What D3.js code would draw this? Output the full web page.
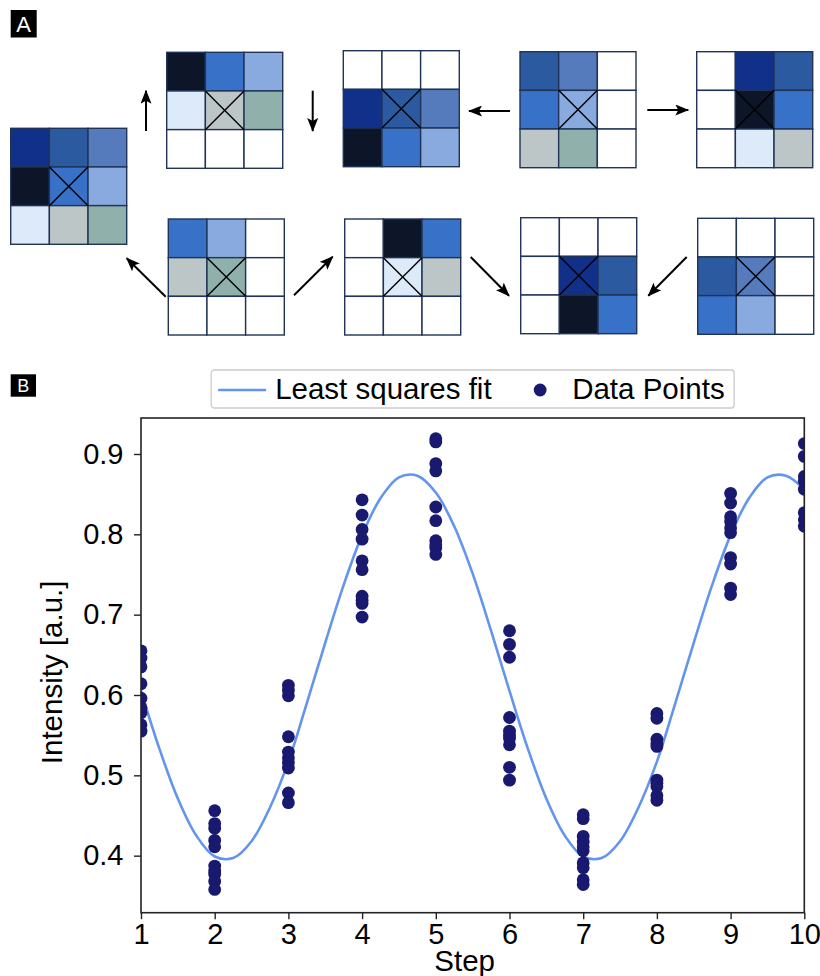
<!DOCTYPE html>
<html>
<head>
<meta charset="utf-8">
<script src="https://cdn.jsdelivr.net/npm/d3@7"></script>
<style>
  body { margin: 0; background: #fff; }
  svg { display: block; }
  text { font-family: "Liberation Sans", Arial, sans-serif; }
</style>
</head>
<body>
<svg id="fig"></svg>
<script>
// ---- panel A: 3x3 image patch and its shifted copies ----
let palette = ["#11308a", "#2b5aa0", "#557bbc",
               "#0c1628", "#3771c8", "#88aade",
               "#dceafa", "#bcc6c7", "#8fb0ab"];
let baseImage = [[0, 1, 2],
                 [3, 4, 5],
                 [6, 7, 8]];
// [row shift, col shift] for each patch (first one is the original)
let shifts = [[0, 0], [1, 0], [-1, 0], [0, 1], [0, -1], [1, 1], [1, -1], [-1, -1], [-1, 1]];

// ---- panel B: measurements and fitted curve ----
let steps = [1, 2, 3, 4, 5, 6, 7, 8, 9, 10];
let intensity = [
  [0.655, 0.646, 0.635, 0.614, 0.596, 0.584, 0.578, 0.563, 0.555],
  [0.456, 0.440, 0.434, 0.419, 0.411, 0.387, 0.381, 0.377, 0.368, 0.358],
  [0.612, 0.606, 0.599, 0.548, 0.529, 0.522, 0.516, 0.509, 0.478, 0.466],
  [0.843, 0.824, 0.806, 0.794, 0.767, 0.756, 0.723, 0.718, 0.714, 0.697],
  [0.919, 0.915, 0.888, 0.879, 0.834, 0.817, 0.792, 0.787, 0.783, 0.775],
  [0.680, 0.663, 0.647, 0.572, 0.555, 0.550, 0.546, 0.538, 0.510, 0.494],
  [0.451, 0.446, 0.424, 0.417, 0.411, 0.406, 0.391, 0.385, 0.370, 0.364],
  [0.577, 0.571, 0.545, 0.539, 0.536, 0.494, 0.490, 0.486, 0.475, 0.469],
  [0.851, 0.839, 0.822, 0.816, 0.808, 0.802, 0.771, 0.763, 0.733, 0.725],
  [0.913, 0.897, 0.872, 0.866, 0.856, 0.827, 0.818, 0.810]
];
let fitX = [1, 1.25, 1.5, 1.75, 2, 2.25, 2.5, 2.75, 3, 3.25, 3.5, 3.75, 4, 4.25, 4.5, 4.75,
            5, 5.25, 5.5, 5.75, 6, 6.25, 6.5, 6.75, 7, 7.25, 7.5, 7.75, 8, 8.25, 8.5, 8.75,
            9, 9.25, 9.5, 9.75, 10];
let fitY = [0.605, 0.533, 0.471, 0.425, 0.399, 0.397, 0.418, 0.460, 0.517, 0.590, 0.665, 0.737,
            0.799, 0.845, 0.871, 0.873, 0.852, 0.810, 0.751, 0.680, 0.605, 0.533, 0.471, 0.425,
            0.399, 0.397, 0.418, 0.460, 0.517, 0.590, 0.665, 0.737, 0.799, 0.845, 0.871, 0.873, 0.856];
let yTicks = [0.4, 0.5, 0.6, 0.7, 0.8, 0.9];
let xTicks = steps;
let seriesNames = ["Least squares fit", "Data Points"];

let width = 820;
let height = 976;
let svg = d3.select("#fig").attr("width", width).attr("height", height);

let fontSize = 29.5;
let tickFontSize = 29;
let lineColor = "#6495ed";
let dotColor = "#191970";

// panel label boxes
let panelLabel = (txt, x, y, w, h, fs) => {
    svg.append("rect").attr("x", x).attr("y", y).attr("width", w).attr("height", h).attr("fill", "#000");
    svg.append("text").attr("x", x + w / 2).attr("y", y + h / 2).attr("dy", "0.36em")
        .attr("text-anchor", "middle").attr("fill", "#fff").style("font-size", fs + "px").text(txt);
};
panelLabel("A", 10.7, 10, 26, 27.5, 22);
panelLabel("B", 10.7, 374.3, 25.3, 22.4, 18);

// ---- panel A drawing ----
let gridSize = 116;
let gridPos = [[10.7, 128.3],
               [166.7, 52.3], [343.3, 50.7], [520, 51.7], [696.7, 51.7],
               [168.3, 219], [344.7, 219], [520.7, 217.7], [697.7, 218.3]];

let cellScale = d3.scaleBand().domain([0, 1, 2]).range([0, gridSize]);

let patches = svg.append("g").selectAll("g")
    .data(shifts)
    .enter()
    .append("g")
    .attr("transform", (d, i) => "translate(" + gridPos[i][0] + "," + gridPos[i][1] + ")");

patches.each(function (shift) {
    let cells = [];
    for (let r = 0; r < 3; r++) {
        for (let c = 0; c < 3; c++) {
            let sr = r + shift[0], sc = c + shift[1];
            let inside = sr >= 0 && sr < 3 && sc >= 0 && sc < 3;
            cells.push({r: r, c: c, color: inside ? palette[baseImage[sr][sc]] : "#ffffff"});
        }
    }
    let g = d3.select(this);
    g.selectAll("rect")
        .data(cells)
        .enter()
        .append("rect")
        .attr("x", d => cellScale(d.c))
        .attr("y", d => cellScale(d.r))
        .attr("width", cellScale.bandwidth())
        .attr("height", cellScale.bandwidth())
        .attr("fill", d => d.color)
        .attr("stroke", "#1f3458")
        .attr("stroke-width", 1.4);
    let x0 = cellScale(1), x1 = cellScale(1) + cellScale.bandwidth();
    g.append("line").attr("x1", x0).attr("y1", x0).attr("x2", x1).attr("y2", x1)
        .attr("stroke", "#000").attr("stroke-width", 1.4);
    g.append("line").attr("x1", x0).attr("y1", x1).attr("x2", x1).attr("y2", x0)
        .attr("stroke", "#000").attr("stroke-width", 1.4);
});

svg.append("defs").append("marker")
    .attr("id", "head")
    .attr("markerUnits", "userSpaceOnUse")
    .attr("viewBox", "0 0 14 11")
    .attr("refX", 13).attr("refY", 5.5)
    .attr("markerWidth", 14).attr("markerHeight", 11)
    .attr("orient", "auto")
    .append("path")
    .attr("d", "M0,0 L14,5.5 L0,11 L3,5.5 Z")
    .attr("fill", "#000");

let arrows = [[146, 131, 146, 90.7], [312.7, 90.7, 312.7, 131],
              [510, 111, 469, 111], [647.3, 110, 688.3, 110],
              [165.7, 296.7, 126.7, 258.3], [294, 295.3, 332.7, 256.7],
              [470.7, 257, 509, 295.7], [686.7, 257, 648.3, 295.7]];
svg.append("g").selectAll("line")
    .data(arrows)
    .enter()
    .append("line")
    .attr("x1", d => d[0]).attr("y1", d => d[1])
    .attr("x2", d => d[2]).attr("y2", d => d[3])
    .attr("stroke", "#000")
    .attr("stroke-width", 2)
    .attr("marker-end", "url(#head)");

// ---- panel B drawing ----
let plot = {left: 141, right: 804.3, top: 418, bottom: 912.7};

let xScale = d3.scaleLinear().domain([1, 10]).range([plot.left, plot.right]);
let yScale = d3.scaleLinear().domain([0.329, 0.9448]).range([plot.bottom, plot.top]);

svg.append("clipPath").attr("id", "plotclip")
    .append("rect")
    .attr("x", plot.left).attr("y", plot.top)
    .attr("width", plot.right - plot.left).attr("height", plot.bottom - plot.top);

let inner = svg.append("g").attr("clip-path", "url(#plotclip)");

let line = d3.line()
    .x((d, i) => xScale(fitX[i]))
    .y(d => yScale(d))
    .curve(d3.curveCatmullRom);

inner.append("path")
    .datum(fitY)
    .attr("d", line)
    .attr("fill", "none")
    .attr("stroke", lineColor)
    .attr("stroke-width", 2.6);

let points = [];
steps.forEach((s, i) => intensity[i].forEach(v => points.push({step: s, value: v})));

inner.selectAll("circle")
    .data(points)
    .enter()
    .append("circle")
    .attr("cx", d => xScale(d.step))
    .attr("cy", d => yScale(d.value))
    .attr("r", 6.4)
    .attr("fill", dotColor);

let xAxis = d3.axisBottom(xScale).tickValues(xTicks).tickFormat(d3.format("d"))
    .tickSize(6.5).tickSizeOuter(0).tickPadding(4);
let yAxis = d3.axisLeft(yScale).tickValues(yTicks).tickFormat(d3.format(".1f"))
    .tickSize(7).tickSizeOuter(0).tickPadding(10.5);

let gx = svg.append("g").attr("transform", "translate(0," + plot.bottom + ")").call(xAxis);
let gy = svg.append("g").attr("transform", "translate(" + plot.left + ",0)").call(yAxis);
[gx, gy].forEach(g => {
    g.select(".domain").remove();
    g.selectAll(".tick line").attr("stroke", "#222").attr("stroke-width", 1.4);
    g.selectAll(".tick text").attr("fill", "#000")
        .style("font-size", tickFontSize + "px")
        .style("font-family", "'Liberation Sans', Arial, sans-serif");
});

svg.append("rect")
    .attr("x", plot.left).attr("y", plot.top)
    .attr("width", plot.right - plot.left).attr("height", plot.bottom - plot.top)
    .attr("fill", "none").attr("stroke", "#222").attr("stroke-width", 1.6);

// axis titles
svg.append("text")
    .attr("x", (plot.left + plot.right) / 2 - 8)
    .attr("y", 971)
    .attr("text-anchor", "middle")
    .style("font-size", fontSize + "px")
    .text("Step");

svg.append("text")
    .attr("transform", "translate(62," + ((plot.top + plot.bottom) / 2 + 7) + ")rotate(-90)")
    .attr("text-anchor", "middle")
    .style("font-size", fontSize + "px")
    .text("Intensity [a.u.]");

// legend, centred above the plot
let legendW = 523, legendH = 38;
let legendX = (plot.left + plot.right) / 2 - legendW / 2;
let legendY = 370;
let legend = svg.append("g").attr("transform", "translate(" + legendX + "," + legendY + ")");
legend.append("rect")
    .attr("width", legendW).attr("height", legendH)
    .attr("rx", 3)
    .attr("fill", "#fff").attr("fill-opacity", 0.8)
    .attr("stroke", "#cccccc").attr("stroke-width", 1.3);
legend.append("line")
    .attr("x1", 7).attr("x2", 55).attr("y1", 20).attr("y2", 20)
    .attr("stroke", lineColor).attr("stroke-width", 2.6);
legend.append("text")
    .attr("x", 64).attr("y", 29)
    .style("font-size", fontSize + "px")
    .text(seriesNames[0]);
legend.append("circle")
    .attr("cx", 329).attr("cy", 20).attr("r", 6.4)
    .attr("fill", dotColor);
legend.append("text")
    .attr("x", 361).attr("y", 29)
    .style("font-size", fontSize + "px")
    .text(seriesNames[1]);
</script>
</body>
</html>
